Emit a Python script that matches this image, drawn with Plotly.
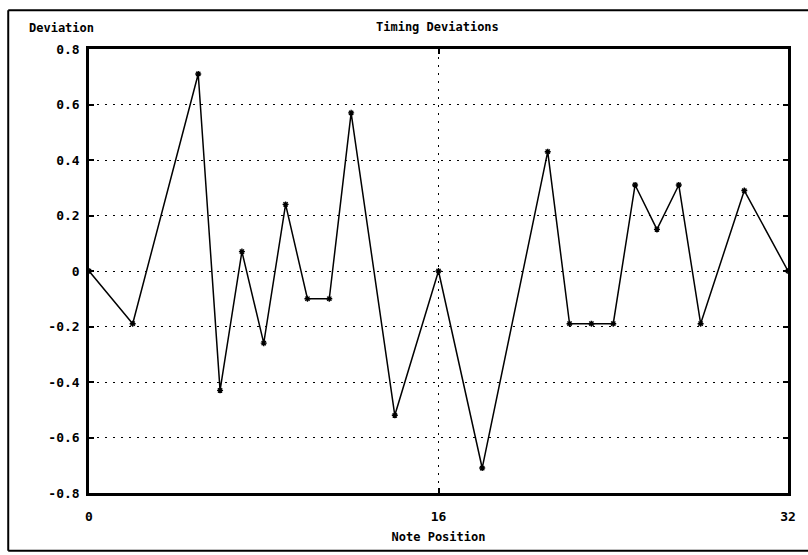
import plotly.graph_objects as go

# Note positions and timing deviation at each note
note_pos = [0, 2, 5, 6, 7, 8, 9, 10, 11, 12, 14, 16, 18, 21, 22, 23, 24, 25, 26, 27, 28, 30, 32]
deviation = [0, -0.19, 0.71, -0.43, 0.07, -0.26, 0.24, -0.10, -0.10, 0.57, -0.52, 0, -0.71,
             0.43, -0.19, -0.19, -0.19, 0.31, 0.15, 0.31, -0.19, 0.29, 0]

# Axis ticks
x_ticks = [0, 16, 32]
x_tick_text = ["0", "16", "32"]
y_ticks = [-0.8, -0.6, -0.4, -0.2, 0, 0.2, 0.4, 0.6, 0.8]
y_tick_text = ["-0.8", "-0.6", "-0.4", "-0.2", "0", "0.2", "0.4", "0.6", "0.8"]

MONO = "DejaVu Sans Mono"

fig = go.Figure()
fig.add_trace(go.Scatter(
    x=note_pos, y=deviation, mode="lines+markers",
    line=dict(color="black", width=1.5),
    marker=dict(symbol="asterisk-open", size=5, color="black",
                line=dict(color="black", width=1.4)),
    showlegend=False,
))

fig.update_layout(
    width=808, height=555,
    margin=dict(l=89, r=18, t=49, b=60),
    paper_bgcolor="white", plot_bgcolor="white",
    font=dict(family=MONO, size=12, color="black"),
    xaxis=dict(
        range=[0, 32], tickvals=x_ticks, ticktext=x_tick_text,
        showline=True, linecolor="black", linewidth=2.5, mirror="ticks",
        ticks="inside", ticklen=5, tickwidth=2, tickcolor="black",
        showgrid=True, gridcolor="black", gridwidth=1.3, griddash="1.5px,6.5px",
        zeroline=False, ticklabelstandoff=10,
        tickfont=dict(family=MONO, size=13, weight="bold"),
        title=dict(text="Note Position", standoff=10,
                   font=dict(family=MONO, size=12, weight="bold")),
    ),
    yaxis=dict(
        range=[-0.8, 0.8], tickvals=y_ticks, ticktext=y_tick_text,
        showline=True, linecolor="black", linewidth=2.5, mirror="ticks",
        ticks="inside", ticklen=5, tickwidth=2, tickcolor="black",
        showgrid=True, gridcolor="black", gridwidth=1.3, griddash="1.5px,6.5px",
        zeroline=False, ticklabelstandoff=4,
        tickfont=dict(family=MONO, size=13, weight="bold"),
    ),
    annotations=[
        dict(text="Timing Deviations", xref="paper", yref="paper",
             x=0.498, y=(495 - 27) / 446, xanchor="center", yanchor="middle",
             showarrow=False, font=dict(family=MONO, size=12, weight="bold")),
        dict(text="Deviation", xref="paper", yref="paper",
             x=(27 - 89) / 701, y=(495 - 28) / 446, xanchor="left", yanchor="middle",
             showarrow=False, font=dict(family=MONO, size=12, weight="bold")),
    ],
    shapes=[
        # outer frame around the whole chart
        dict(type="line", xref="paper", yref="paper",
             x0=(8 - 89) / 701, x1=(812 - 89) / 701,
             y0=(495 - 10) / 446, y1=(495 - 10) / 446,
             line=dict(color="black", width=2)),
        dict(type="line", xref="paper", yref="paper",
             x0=(8 - 89) / 701, x1=(8 - 89) / 701,
             y0=(495 - 10) / 446, y1=(495 - 553) / 446,
             line=dict(color="black", width=2)),
        dict(type="line", xref="paper", yref="paper",
             x0=(8 - 89) / 701, x1=(812 - 89) / 701,
             y0=(495 - 553) / 446, y1=(495 - 553) / 446,
             line=dict(color="black", width=2)),
    ],
)

fig.write_html("out.html")
